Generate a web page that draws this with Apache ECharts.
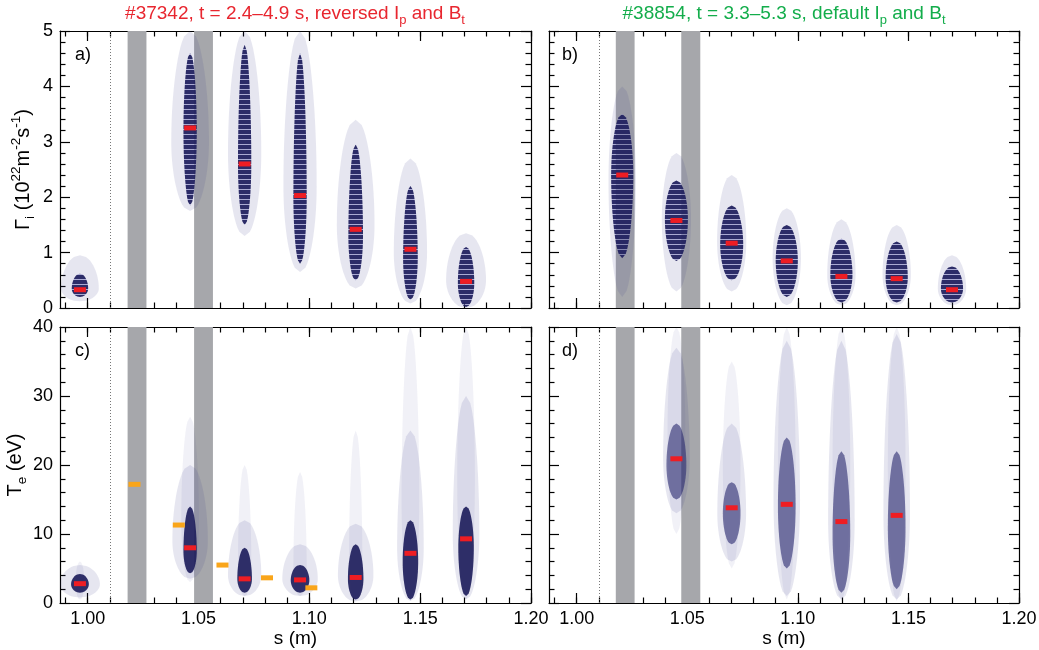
<!DOCTYPE html>
<html>
<head>
<meta charset="utf-8">
<script src="https://cdn.jsdelivr.net/npm/echarts@6/dist/echarts.min.js"></script>
<style>
  html, body { margin: 0; padding: 0; background: #fff; }
  #main { width: 1039px; height: 650px; }
</style>
</head>
<body>
<div id="main"></div>
<script>
// s positions of the probe clusters (m)
const sA = [0.9965, 1.0462, 1.0708, 1.0958, 1.1209, 1.1456, 1.1707];
const sB = [1.0206, 1.0451, 1.0701, 1.0950, 1.1197, 1.1447, 1.1697];
const sC = [0.9965, 1.0462, 1.0708, 1.0958, 1.1209, 1.1456, 1.1707];
const sD = [1.0451, 1.0701, 1.0950, 1.1197, 1.1447];

// medians (red bars)
const gammaA = [0.33, 3.25, 2.60, 2.03, 1.42, 1.06, 0.48];
const gammaB = [2.40, 1.58, 1.17, 0.85, 0.57, 0.53, 0.33];
const teC = [2.8, 8.0, 3.5, 3.35, 3.7, 7.2, 9.3];
const teD = [20.9, 13.8, 14.3, 11.8, 12.7];

// orange bars in panel c
const sOrange = [1.0211, 1.0411, 1.0608, 1.0809, 1.1009];
const teOrange = [17.2, 11.3, 5.5, 3.65, 2.2];

// cloud extents: [low, densest, high, half width in s]
const coreA = [[0.2, 0.35, 0.62, 0.0037], [1.85, 3.2, 4.6, 0.003], [1.5, 2.6, 4.75, 0.003], [0.8, 2.0, 4.6, 0.003], [0.5, 1.3, 2.95, 0.0033], [0.15, 0.9, 2.2, 0.0033], [0.02, 0.45, 1.1, 0.0037]];
const haloA = [[0.12, 0.35, 0.95, 0.0085], [1.75, 3.0, 5.0, 0.0085], [1.3, 2.8, 5.0, 0.0075], [0.65, 2.2, 5.0, 0.0075], [0.35, 1.5, 3.4, 0.0085], [0.08, 1.0, 2.7, 0.0075], [0.0, 0.5, 1.35, 0.009]];
const coreB = [[0.9, 2.4, 3.5, 0.005], [0.85, 1.6, 2.3, 0.0052], [0.5, 1.15, 1.85, 0.0052], [0.2, 0.85, 1.5, 0.005], [0.1, 0.6, 1.25, 0.005], [0.1, 0.55, 1.2, 0.005], [0.1, 0.35, 0.75, 0.005]];
const haloB = [[0.2, 2.3, 4.0, 0.0062], [0.3, 1.6, 2.8, 0.0066], [0.3, 1.2, 2.4, 0.0066], [0.05, 0.9, 1.8, 0.0064], [0.05, 0.6, 1.6, 0.0064], [0.05, 0.6, 1.5, 0.0064], [0.05, 0.35, 0.95, 0.0064]];
const coreC = [[1.5, 2.7, 4.2, 0.004], [4.3, 7.5, 14.0, 0.003], [1.5, 3.5, 8.0, 0.0033], [1.5, 3.3, 5.5, 0.0042], [0.5, 3.5, 8.5, 0.0035], [0.5, 6.0, 12.0, 0.0035], [1.0, 8.0, 14.0, 0.0035]];
const haloC = [[0.8, 2.7, 5.5, 0.009], [3.5, 9.0, 20.0, 0.008], [1.0, 4.0, 12.0, 0.0075], [1.0, 3.5, 8.5, 0.008], [0.2, 4.0, 11.5, 0.008], [0.3, 8.0, 25.0, 0.006], [0.5, 10.0, 30.0, 0.006]];
const tailC = [[0.5, 3.0, 6.0, 0.002], [3.0, 12.0, 27.0, 0.004], [1.0, 6.0, 20.0, 0.003], [1.0, 5.0, 19.0, 0.003], [0.2, 6.0, 25.0, 0.003], [0.3, 15.0, 40.0, 0.004], [0.5, 18.0, 40.0, 0.004]];
const coreD = [[15.0, 20.0, 26.0, 0.0045], [8.5, 13.0, 17.5, 0.004], [5.0, 14.0, 24.0, 0.004], [1.5, 10.0, 22.0, 0.004], [2.0, 11.0, 22.0, 0.004]];
const haloD = [[13.0, 21.0, 37.0, 0.006], [6.0, 13.0, 26.0, 0.0065], [1.0, 15.0, 38.0, 0.006], [0.5, 12.0, 38.0, 0.006], [0.5, 13.0, 39.0, 0.006]];
const tailD = [[10.0, 25.0, 40.0, 0.004], [5.0, 20.0, 35.0, 0.004], [0.5, 20.0, 40.0, 0.004], [0.3, 20.0, 40.0, 0.004], [0.3, 20.0, 40.0, 0.004]];

// shaded s intervals and dotted reference line
const bandsLeft = [[1.018, 1.0265], [1.048, 1.0565]];
const bandsRight = [[1.0177, 1.0262], [1.0473, 1.0559]];
const dottedLeft = 1.0092;
const dottedRight = 1.0073;

// axis ticks
const S_MIN = 0.9875, S_MAX = 1.2;
const sMajorTicks = [1.00, 1.05, 1.10, 1.15, 1.20];
const sMinorTicks = [0.99, 1.00, 1.01, 1.02, 1.03, 1.04, 1.05, 1.06, 1.07, 1.08, 1.09, 1.10,
  1.11, 1.12, 1.13, 1.14, 1.15, 1.16, 1.17, 1.18, 1.19, 1.20];

const FONT = '"Liberation Sans", Arial, Helvetica, sans-serif';
const RED = '#ee1d23';
const ORANGE = '#f9a51a';
const GREY = '#a6a7ab';

// striped fill for the quantised flux clouds
const stripe = document.createElement('canvas');
stripe.width = 5;
stripe.height = 5;
const sctx = stripe.getContext('2d');
sctx.fillStyle = 'rgba(34,34,96,0.95)';
sctx.fillRect(0, 0, 5, 4);
sctx.fillStyle = 'rgba(120,120,185,0.55)';
sctx.fillRect(0, 4, 5, 1);
const stripeFill = { image: stripe, repeat: 'repeat' };

const myChart = echarts.init(document.getElementById('main'));

const rects = [
  { left: 60, top: 31, width: 471, height: 277 },
  { left: 549, top: 31, width: 470, height: 277 },
  { left: 60, top: 327, width: 471, height: 276 },
  { left: 549, top: 327, width: 470, height: 276 },
];

let grids = [];
rects.forEach(r => grids.push(Object.assign({ outerBoundsMode: 'none' }, r)));
rects.forEach(r => grids.push(Object.assign({ outerBoundsMode: 'none' }, r)));

const tickLine = { color: '#000', width: 1.2 };
const frame = { show: true, onZero: false, lineStyle: { color: '#000', width: 1.2 } };
const tickFont = { fontSize: 18, color: '#000', fontFamily: FONT };

let xAxes = [];
let yAxes = [];

// main x axes: 2 per grid (bottom with labels, top mirror)
for (let g = 0; g < 4; g++) {
  const showLab = g >= 2;
  xAxes.push({
    type: 'value', gridIndex: g, position: 'bottom', min: S_MIN, max: S_MAX,
    axisLine: frame, splitLine: { show: false },
    axisTick: { inside: true, length: 10, customValues: sMajorTicks, lineStyle: tickLine },
    axisLabel: Object.assign({ show: showLab, customValues: sMajorTicks, margin: 7,
      formatter: v => v.toFixed(2) }, tickFont),
    name: showLab ? 's (m)' : '', nameLocation: 'middle', nameGap: 24,
    nameTextStyle: { fontSize: 19, color: '#000', fontFamily: FONT },
  });
  xAxes.push({
    type: 'value', gridIndex: g, position: 'top', min: S_MIN, max: S_MAX,
    axisLine: frame, splitLine: { show: false },
    axisTick: { inside: true, length: 10, customValues: sMajorTicks, lineStyle: tickLine },
    axisLabel: { show: false },
  });
}
// overlay x axes for the minor ticks
for (let g = 0; g < 4; g++) {
  ['bottom', 'top'].forEach(pos => {
    xAxes.push({
      type: 'value', gridIndex: g + 4, position: pos, min: S_MIN, max: S_MAX,
      axisLine: { show: false }, splitLine: { show: false },
      axisTick: { inside: true, length: 5.5, customValues: sMinorTicks, lineStyle: tickLine },
      axisLabel: { show: false },
    });
  });
}

const gammaName = '{n|Γ}{sb|i}{n| (10}{sp|22}{n|m}{sp|-2}{n|s}{sp|-1}{n|)}';
const teName = '{n|T}{sb|e}{n| (eV)}';
const nameRich = {
  n: { fontSize: 20, lineHeight: 28, color: '#000', fontFamily: FONT },
  sp: { fontSize: 13.5, lineHeight: 13, verticalAlign: 'top', color: '#000', fontFamily: FONT },
  sb: { fontSize: 13.5, lineHeight: 13, verticalAlign: 'bottom', color: '#000', fontFamily: FONT },
};

const yMax = [5, 5, 40, 40];
const yInt = [1, 1, 10, 10];
for (let g = 0; g < 4; g++) {
  const showLab = g % 2 === 0;
  const base = {
    type: 'value', gridIndex: g, min: 0, max: yMax[g], interval: yInt[g],
    axisLine: frame, splitLine: { show: false },
    axisTick: { inside: true, length: 10, lineStyle: tickLine },
    minorTick: { show: true, splitNumber: 5, length: 5.5, lineStyle: tickLine },
  };
  yAxes.push(Object.assign({}, base, {
    position: 'left',
    axisLabel: Object.assign({ show: showLab, margin: 7 }, tickFont),
    name: showLab ? (g === 0 ? gammaName : teName) : '',
    nameLocation: 'middle', nameRotate: 90, nameGap: 23,
    nameTextStyle: { rich: nameRich },
  }));
  yAxes.push(Object.assign({}, base, { position: 'right', axisLabel: { show: false } }));
}
for (let g = 0; g < 4; g++) {
  yAxes.push({ type: 'value', gridIndex: g + 4, min: 0, max: yMax[g], show: false });
}

// spindle shaped cloud drawn from [s, low, densest, high, halfWidth]
function cloudRender(fill) {
  return function (params, api) {
    const s = api.value(0), lo = api.value(1), pk = api.value(2), hi = api.value(3), hw = api.value(4);
    const right = [], left = [];
    const n = 40;
    for (let i = 0; i <= n; i++) {
      const t = i / n;
      const y = t < 0.5 ? lo + (pk - lo) * t * 2 : pk + (hi - pk) * (t - 0.5) * 2;
      const w = hw * Math.pow(Math.sin(Math.PI * t), 0.45);
      right.push(api.coord([s + w, y]));
      left.unshift(api.coord([s - w, y]));
    }
    return {
      type: 'polygon',
      shape: { points: right.concat(left) },
      style: { fill: fill },
    };
  };
}

function cloudSeries(g, sArr, ext, fill, z) {
  return {
    type: 'custom', xAxisIndex: 2 * g, yAxisIndex: 2 * g, clip: true, silent: true, z: z,
    renderItem: cloudRender(fill),
    encode: { x: 0, y: [1, 3] },
    data: sArr.map((s, i) => [s].concat(ext[i])),
  };
}

function backdrop(g, bands, dotted) {
  return {
    type: 'scatter', xAxisIndex: 2 * g, yAxisIndex: 2 * g, data: [], silent: true, z: 1,
    markArea: {
      silent: true,
      itemStyle: { color: GREY, opacity: 1 },
      label: { show: false },
      data: bands.map(b => [{ xAxis: b[0] }, { xAxis: b[1] }]),
    },
    markLine: {
      silent: true, symbol: 'none', label: { show: false },
      lineStyle: { type: [1, 2], color: '#777', width: 1 },
      data: [{ xAxis: dotted }],
    },
  };
}

function medians(g, sArr, vals, color) {
  return {
    type: 'scatter', xAxisIndex: 2 * g, yAxisIndex: 2 * g, z: 10, silent: true,
    symbol: 'rect', symbolSize: [12, 5],
    itemStyle: { color: color, opacity: 1 },
    data: sArr.map((s, i) => [s, vals[i]]),
  };
}

const haloFill = 'rgba(60,60,140,0.13)';
const tailFill = 'rgba(60,60,140,0.07)';

const series = [
  backdrop(0, bandsLeft, dottedLeft),
  cloudSeries(0, sA, haloA, haloFill, 3),
  cloudSeries(0, sA, coreA, stripeFill, 4),
  medians(0, sA, gammaA, RED),

  backdrop(1, bandsRight, dottedRight),
  cloudSeries(1, sB, haloB, haloFill, 3),
  cloudSeries(1, sB, coreB, stripeFill, 4),
  medians(1, sB, gammaB, RED),

  backdrop(2, bandsLeft, dottedLeft),
  cloudSeries(2, sC, tailC, tailFill, 2),
  cloudSeries(2, sC, haloC, haloFill, 3),
  cloudSeries(2, sC, coreC, 'rgba(32,32,92,0.92)', 4),
  medians(2, sC, teC, RED),
  medians(2, sOrange, teOrange, ORANGE),

  backdrop(3, bandsRight, dottedRight),
  cloudSeries(3, sD, tailD, tailFill, 2),
  cloudSeries(3, sD, haloD, haloFill, 3),
  cloudSeries(3, sD, coreD, 'rgba(40,40,110,0.6)', 4),
  medians(3, sD, teD, RED),
];

function titleText(x, str, color) {
  return {
    type: 'text', x: x, y: 14, z: 20,
    style: {
      text: str, align: 'center', verticalAlign: 'middle',
      rich: {
        t: { fontSize: 19, lineHeight: 26, fill: color, fontFamily: FONT },
        s: { fontSize: 13, lineHeight: 13, verticalAlign: 'bottom', fill: color, fontFamily: FONT },
      },
    },
  };
}

function panelLabel(x, y, str) {
  return {
    type: 'text', x: x, y: y, z: 20,
    style: { text: str, fontSize: 18, fill: '#000', fontFamily: FONT, verticalAlign: 'middle' },
  };
}

myChart.setOption({
  animation: false,
  backgroundColor: '#fff',
  grid: grids,
  xAxis: xAxes,
  yAxis: yAxes,
  series: series,
  graphic: [
    titleText(295, '{t|#37342, t = 2.4–4.9 s, reversed I}{s|p}{t| and B}{s|t}', '#e8262f'),
    titleText(784, '{t|#38854, t = 3.3–5.3 s, default I}{s|p}{t| and B}{s|t}', '#13ad4b'),
    panelLabel(75, 55, 'a)'),
    panelLabel(562, 55, 'b)'),
    panelLabel(75, 351, 'c)'),
    panelLabel(562, 351, 'd)'),
  ],
});
</script>
</body>
</html>
